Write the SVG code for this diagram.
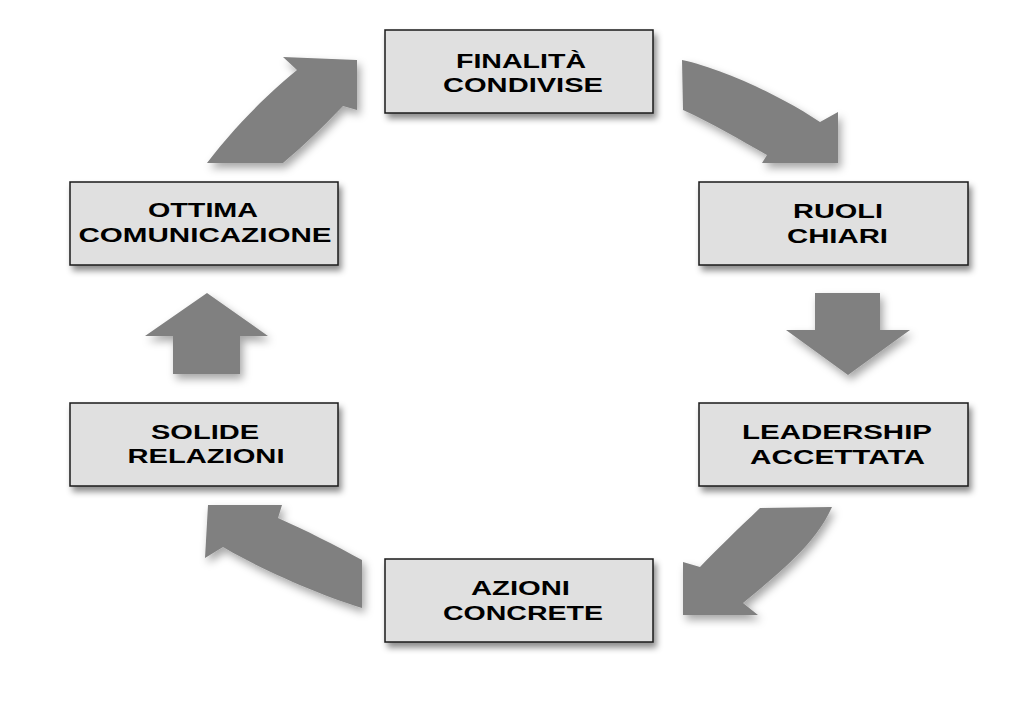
<svg xmlns="http://www.w3.org/2000/svg" width="1023" height="708" viewBox="0 0 1023 708">
  <defs>
    <filter id="shadow" x="-20%" y="-20%" width="140%" height="150%">
      <feDropShadow dx="3" dy="5" stdDeviation="3" flood-color="#000" flood-opacity="0.45"/>
    </filter>
    <filter id="ashadow" x="-20%" y="-20%" width="140%" height="150%">
      <feDropShadow dx="3" dy="5" stdDeviation="4" flood-color="#000" flood-opacity="0.35"/>
    </filter>
  </defs>
  <style>
    .box { fill: #e0e0e0; stroke: #1a1a1a; stroke-width: 1.5; filter: url(#shadow); }
    .lbl { font-family: "Liberation Sans", Arial, sans-serif; font-weight: bold; font-size: 21px; fill: #000; text-anchor: middle; }
    .arrow { fill: #808080; filter: url(#ashadow); }
  </style>
  <rect width="1023" height="708" fill="#ffffff"/>

  <g id="connectors">
    <path class="arrow" d="M207,163 C 232,130 265,96 297,70 L 283,57 L 357,60 L 357,110 L 343,106 C 322,128 302,147 283,163 Z"/>
    <path class="arrow" d="M682,60 C 720,68 780,95 820,122 L 838,112 L 838,163 L 762,163 L 767,155 C 740,140 712,123 683,110 Z"/>
    <path class="arrow" d="M815,293 L880,293 L880,330 L910,330 L848,375 L786,330 L815,330 Z"/>
    <path class="arrow" d="M832,507 L760,508 C 737,530 716,550 700,567 L683,562 L683,615 L758,615 L743,603 C 780,572 815,545 832,507 Z"/>
    <path class="arrow" d="M208,505 L282,505 L278,518 C 305,530 335,545 362,560 L362,608 C 320,595 262,570 223,547 L205,558 Z"/>
    <path class="arrow" d="M207,293 L268,336 L240,336 L240,374 L173,374 L173,336 L145,336 Z"/>
  </g>

  <g id="node-finalita">
    <rect class="box" x="385" y="30" width="268" height="83"/>
    <text class="lbl" x="521" y="67.5" textLength="130" lengthAdjust="spacingAndGlyphs">FINALITÀ</text>
    <text class="lbl" x="523" y="92" textLength="160" lengthAdjust="spacingAndGlyphs">CONDIVISE</text>
  </g>

  <g id="node-ruoli">
    <rect class="box" x="699" y="182" width="269" height="83"/>
    <text class="lbl" x="838" y="218" textLength="90" lengthAdjust="spacingAndGlyphs">RUOLI</text>
    <text class="lbl" x="837.5" y="243" textLength="101" lengthAdjust="spacingAndGlyphs">CHIARI</text>
  </g>

  <g id="node-leadership">
    <rect class="box" x="699" y="403" width="269" height="83"/>
    <text class="lbl" x="837" y="439" textLength="190" lengthAdjust="spacingAndGlyphs">LEADERSHIP</text>
    <text class="lbl" x="837.5" y="464" textLength="175" lengthAdjust="spacingAndGlyphs">ACCETTATA</text>
  </g>

  <g id="node-azioni">
    <rect class="box" x="385" y="559" width="268" height="83"/>
    <text class="lbl" x="520.5" y="595" textLength="99" lengthAdjust="spacingAndGlyphs">AZIONI</text>
    <text class="lbl" x="523" y="620" textLength="160" lengthAdjust="spacingAndGlyphs">CONCRETE</text>
  </g>

  <g id="node-solide">
    <rect class="box" x="70" y="403" width="268" height="83"/>
    <text class="lbl" x="205" y="439" textLength="108" lengthAdjust="spacingAndGlyphs">SOLIDE</text>
    <text class="lbl" x="206" y="463" textLength="157" lengthAdjust="spacingAndGlyphs">RELAZIONI</text>
  </g>

  <g id="node-ottima">
    <rect class="box" x="70" y="182" width="268" height="83"/>
    <text class="lbl" x="203" y="217" textLength="110" lengthAdjust="spacingAndGlyphs">OTTIMA</text>
    <text class="lbl" x="205" y="242" textLength="253" lengthAdjust="spacingAndGlyphs">COMUNICAZIONE</text>
  </g>
</svg>
